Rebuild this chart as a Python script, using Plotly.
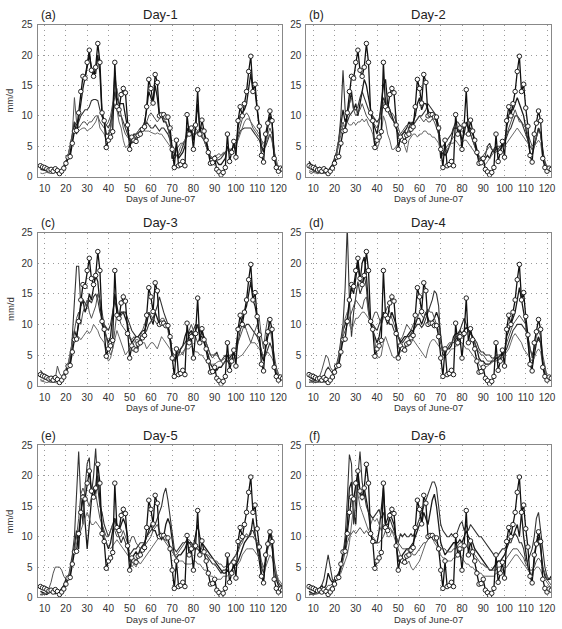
import plotly.graph_objects as go

days = list(range(8, 123))

obs = [1.8,1.6,1.5,1.3,1.1,1.2,0.9,1.3,1.0,0.5,
       0.9,1.4,2.2,3.2,3.3,5.5,7.5,7.6,10.5,14.0,
       16.5,16.2,18.8,20.8,17.5,16.5,18.0,21.9,18.8,10.5,
       9.2,4.8,6.0,6.5,7.4,18.8,11.5,11.0,13.5,14.5,
       13.8,8.5,4.5,6.5,6.0,5.8,6.8,7.0,7.8,8.2,
       11.5,16.0,14.5,12.1,16.8,15.5,10.0,10.2,10.2,9.8,
       9.8,8.0,4.5,1.5,6.0,1.8,2.0,2.5,1.8,10.2,
       7.0,8.0,4.5,8.5,14.3,7.0,9.3,7.5,6.0,4.0,
       2.2,2.3,3.0,1.2,0.8,0.3,0.7,1.5,7.0,2.5,
       4.0,5.8,3.2,9.2,11.5,10.0,12.0,14.0,17.3,19.8,
       14.0,15.2,11.3,8.3,3.5,2.4,7.0,8.8,10.8,9.2,
       3.0,1.5,0.9,1.4,1.2]

# ---- Day-1 models ----
a1 = [1.2,1.1,1,1,0.9,1,0.8,0.9,0.8,0.6,
      0.8,1.2,2,3,4,6,9,7,10,12,
      14.5,16,18,20,18,17,17,20,17,10,
      9,7,7,8,11,17,13,12,12,12,
      10,8,6,6,7,7,7,7.5,8,9,
      11,14,13,12,15,13,10,10,9,9,
      8,7,3,3.5,5,3,3.5,4,5,8,
      7,8,6,8,12,8,8,7,6,4.5,
      3,3,3,2.5,2,2,2.5,3,5,4,
      4.5,5,4.5,8,10,10.5,11,12,15,17,
      14,14,11,8,5,4,6,8,10,9,
      4,2,1,1.2,1.2]
a2 = [1.5,1.3,1.2,1.1,1,1,0.9,1,0.9,0.8,
      1,1.5,2.5,3.5,5,7,9,8.5,9,10,
      10.5,11,11,11.5,12.5,12.7,12.7,12.5,11,10,
      9,8.5,8,9,11,14,12,10,10,9,
      8,7,6,5.5,6,6.5,7,7.5,8,8,
      9,8.5,8,8,8.5,8,7.5,8,8,7.5,
      7,6,3,3,3.5,3.5,4,5,6,7,
      7,7.5,7,7,7.5,7,6.5,6,5,4,
      3,3,2.8,2.7,2.8,3,3.5,4,4.5,4.5,
      4.5,5,5,6.5,7.5,7.8,8,8,8,8,
      7.5,7,6.5,6,5,4.5,5,6,7,6,
      3.5,2,1.2,1.3,1.3]
a3 = [1.8,1.5,1.4,1.2,1.3,1.1,1.2,1.4,1.1,0.9,
      1.2,1.8,2.5,3.5,5,7,13,9,8,8.5,
      9,9,8.5,9,9,9.5,10,10,9,8.5,
      8,8.5,9,10,12,13,14.5,12,10,8,
      7,6.5,6,6,6.5,7,7.5,8,8,8.5,
      9,10,10.5,10,9.5,9,9.5,10,9.5,9,
      8,6,4,4,4.5,5,5.5,5.5,6,6.5,
      7,8,8.5,8,7.5,7,6.5,6,5,4,
      3.5,3,3.5,3.5,3.8,3.5,3.8,4,4.5,4,
      4.5,5,5.5,7,8.5,9.5,10,10.5,10,9,
      8,7.5,7,6.5,6,5.5,6,7,8,7,
      4,2,1,1,1]
a4 = [0.6,0.5,0.6,0.7,0.6,0.5,0.6,0.7,0.5,0.4,
      0.8,1.5,2.5,3.5,5,6.5,7.5,7.8,7.5,7.8,
      8,8,7.5,7.8,8,8.5,9,10,8,7.5,
      7,6,6.5,8,10,12,11,9,8,6,
      4.8,5,5.5,6,6.5,7,7.5,8,8,7.5,
      7.5,7.5,7.3,7.2,7,7.2,7,7,6.5,6,
      5.5,5,3.5,3,3.5,4,5,5.5,6,6.5,
      7,7.5,7,7,7.5,8,7,6,5,4,
      3.5,3,3,3,3.2,3.5,4,4,4.5,4.5,
      4.5,5,5.5,6,7,8,9,9.5,9.5,9,
      8.5,8,7.5,7,6,5,5.5,6.5,7,6,
      4,2.5,1.5,1.2,1.2]

# ---- Day-2 models ----
b1 = [2.5,2,1.8,1.5,1.2,1.5,1,1.2,0.8,1,
      1.5,2,3,4,6,9,11,9,10,12,
      14,11,12,10,12,14,16,15,13,11,
      9,8,7,9,12,15,16,12,11,10,
      9,8,7,6.5,7,7.5,8,9,8.5,9,
      10,12,13,11,12,12,11,10,10.5,10,
      9,7,3,4,3.5,4,5,6,8,8,
      8,7.5,6,7,9,8,8,7,6,4.5,
      3,2.5,3,3,3.5,3,4,4.5,5,4,
      4.5,5,5.5,8,10,11,11,12,13,12,
      11,10,8,6,4,3.5,5,7,8,7,
      4,2,1,1,1.2]
b2 = [1.5,1.2,1,0.8,0.7,0.6,0.6,0.8,0.7,0.8,
      1,1.5,2.5,3.5,6,10,17.5,11,9,10,
      10.5,11,11,11.5,13,14,13,12,11,10.5,
      10,9.5,9,9.5,11,13,12,11,10,9.5,
      9,8,7,6.5,7,7.5,7,8,9,8.5,
      9,9.5,10,10,10.5,11,12,11.5,11,10.5,
      10,8,5,5,5.5,6,6.5,7,8,9,
      9,8.5,8,8,8.5,8,7,6,5,4,
      3,3,2.8,3.5,5,5.5,4.5,4,4.5,4.5,
      5,5,5.5,6.5,7.5,8,9,10,10,9.5,
      9,8,7,6,5,4.5,5,6.5,8,7,
      4,2.5,1.5,1.2,1.2]
b3 = [0.8,0.5,0.7,2,0.5,0.6,1.2,0.5,1,0.5,
      1,1.5,2.5,4,6,8,9,8,10,12,
      13,11,10,10.5,11,12,11,10,9.5,9,
      9,8.5,8,9,10,12,13,11,10,10.5,
      10,9,8,7,7.5,8,8.5,8,8,8.5,
      9,9.5,10,9.5,9,9.5,9,9,9.5,9,
      8,7,4,4,4.5,5,5.5,6,6.5,7,
      7,7.5,7.5,7,7,7,7,6,5,4,
      3.5,3,3.5,4,4.5,5,4.5,4.5,5,5,
      5,5.5,6,7,8,9,10,11,10,9,
      9,8.5,8,7,6,5,5.5,6.5,7.5,7,
      4,2.5,1.5,1,1]
b4 = [1,0.8,0.7,0.6,0.5,0.6,0.5,0.6,0.5,0.4,
      0.8,1.2,2,3.5,5,7,8.5,8,9,8.5,
      8.5,9,8.5,9,9,9.5,9,9.5,8.5,8,
      7,5,4.5,5.5,7,10,9,7,6,4.5,
      4.5,5,5.5,6,6.5,5,4,6,6.5,7,
      7,6.5,7,7,7.5,7.5,7,7,6.5,6.5,
      6,5.5,4,3.5,4,4.5,5,5.5,5.5,6,
      5.5,5,5.5,6,6,5.5,5,4.5,4,3.5,
      3,2.5,2.5,2,2.5,3,3.5,4,4,4.5,
      4.5,5,5,5.5,6,6.5,7,7.5,8,7.5,
      7,6.5,6,5.5,5,4.5,5,5.5,6,5.5,
      3,2,1.5,1.2,1.2]

# ---- Day-3 models ----
c1 = [2,1.5,1.2,1,1.2,1,0.8,1,0.8,0.7,
      1,1.5,2.5,3,4,7,9,8,10,13,
      14,12,13,15,14,16,18,17,13,10,
      9,8,7,8,11,15,13,11,12,12,
      11,10,8,7,7.5,8,8,8.5,9,9,
      10,12,11,10,12,11,10,10,10.5,10,
      9.5,8,5,4,4.5,5,6,6.5,8,9,
      8.5,9,8,9,10,8,8,7,6,5,
      3.5,3,3,2.5,3,3,3.5,4,5,4.5,
      5,5.5,6,9,10,11,12,13,15,17,
      14,13,11,8,5,4,6,8,9,8.5,
      4,2,1,1,1.2]
c2 = [2.5,2,1.5,1,0.7,0.8,0.6,0.8,0.7,0.6,
      0.8,1.2,2.2,3,4,8,13,19.5,19.5,13,
      14,13.5,13,14,13.5,14.5,15,14,12,11,
      10,9.5,9,10,12,14,12,11,11.5,12,
      12,11,10,9,8.5,8,8,7.5,8,8.5,
      9,10,10.5,11,12,13,14.5,13,12,11,
      10,8,5.5,5,5,5.5,6,6.5,7,7.5,
      8,8.5,9,10,9.5,9,8.5,8,7,6,
      5,5,5,5.5,4.5,4,4.5,5,4,3.5,
      4,4.5,5,7,9,10,9.5,10,10,9.5,
      9,8.5,8,7,5.5,4.5,5,6,7,6,
      3.5,2.5,1.5,1.2,1.2]
c3 = [1,0.8,1,1.2,1,1.5,1.5,1.2,3.2,2,
      1.5,2,2.5,3.5,5,7,9,11,12,10,
      12,13,14,12,11,12,13,15,14,12,
      10,8,6,5,6,9,12,11,10,9.5,
      9,8.5,8,7.5,8,7,6,8,9,10,
      11,12,11.5,11,10.5,10,10.5,11,11,10,
      9,7,5,4,5,6,5.5,5,6,7,
      9,10,9,8,7,8,9,8,7,6,
      5,4.5,5,5,4.5,4,3.5,4,4.5,5,
      5,5.5,6,7,8,9,10,9,8,7,
      8,9,10,11,8,6,9,11,9.5,7,
      5,3,2,1.5,1.5]
c4 = [0.8,0.7,0.6,0.5,0.6,0.5,0.6,0.5,0.4,0.6,
      0.8,1.2,2,3.5,5,7,7.5,8,8,7.5,
      8,8.5,9,8.5,9,10,9.5,9,8,7.5,
      7,5,4,4.5,6,8,9,8,7,6,
      5,5.5,6,6.5,7,7.5,7.5,7,7,7,
      6,6.5,7,7,6.5,6,7,8,7.5,7,
      6.5,6,5,4.5,4.5,5,5,5.5,6,6,
      6,6.5,6,5.5,5.5,5,5,4.5,4,4,
      3.5,3.5,3.5,3.8,4,4,4.2,4.5,4.5,4.5,
      4.5,4.5,4.5,4.5,4.8,5,5.5,6,6.5,7,
      7,7,6.5,6,5.5,5,5,5.5,5,4.5,
      3.5,2.5,1.5,1.2,1.2]

# ---- Day-4 models ----
d1 = [1.5,1.2,1,0.8,1,0.8,0.7,0.8,0.6,0.5,
      1,1.5,2.5,3,4,6,9,10,11,14,
      16,15,18,20,17,20,21,18,13,10,
      9,8,7,8,10,12,11,10,11,12,
      11,10,8,7,7.5,8,8,8.5,9,9,
      10,11,11,10,11,12,11,10,10.5,11,
      12,11,8,5,5,6,6,6.5,8,8.5,
      8.5,9,8.5,9,9.5,9,8.5,8,7,6,
      4.5,4,4,3.5,3.5,3.5,4,4,4.5,4.5,
      5,5,5.5,8,9,10,11,12,14,16,
      14,12,10,7,4,3,5,7,8,7,
      4,2,1,1,1]
d2 = [1,0.8,0.7,0.5,0.6,0.8,1,1.5,2.5,3,
      2.5,2,2.5,3.5,5,8,10,16,26,14,
      8,12,15,17,15,16,18,16,12,10,
      10,9.5,9,10,11,11.5,12,11,10,10,
      9,8.5,8,7.5,7,7.5,8,8,8.5,9,
      9.5,10,10,9.5,10,11,12,13,14,15.5,
      15,13,7,5.5,6,6,6.5,7,7,7.5,
      8,9,10,11,10,9,8.5,8,7.5,7,
      6,5.5,5.5,5,5,5,4.5,4.5,4.5,4.5,
      5,5,5.5,6,7,8,9,9.5,10,10,
      10,9.5,9,8,6,5,6,7,7.5,7,
      4,2.5,1.5,1.2,1.2]
d3 = [0.5,0.6,0.8,1,1.2,1.5,2.5,4,5,4.5,
      3,2.5,2.5,3,4,6,8,9,10,11,
      12,13,14,13.5,13,12.5,14,14.5,12,10,
      11,12,12,11,10,11,12,13,12,11,
      10,9,8,7.5,8,9,10,9.5,9,10,
      10.5,11,12,11.5,11,12,12.5,12,12,11,
      10,9,7,6,6,6.5,7,7,7.5,8,
      8,8.5,8,8,8.5,9,8.5,8,7,6,
      5.5,5,5,4.5,4,4,4,4.5,5,5,
      5,5.5,6,7,8,9,10,10.5,11,11.5,
      11,10.5,10,8,6,4.5,6,8,9,8,
      5,3,1.5,1.2,1.2]
d4 = [0.6,0.5,0.5,0.6,0.5,0.5,0.6,0.5,0.5,0.6,
      0.8,1.2,2,3,4.5,7,9,11,12,10,
      9,10,11,11,11.5,12,12,11.5,11,10.5,
      9.5,7,5,4.5,5,7,8,7,6,5,
      4.5,4.8,5,5.5,6,6.5,6.5,6.5,7,7.5,
      7,6.5,6,5.5,5,4.5,6,7,7.5,7.5,
      7,6.5,6,5.5,5,5,5.5,6,6,6.5,
      6.5,7,7,6.5,6,6,5.5,5,4.5,4,
      3.5,3,3,3,3.2,3.5,3.8,4,4,4.2,
      4.5,4.5,5,5.5,6,7,8,8.5,8,7.5,
      7,6,5.5,5,4.5,4,4.5,5.5,6,5.5,
      3.5,2.5,1.5,1.2,1]

# ---- Day-5 models ----
e1 = [1,0.8,0.6,0.5,0.8,1,0.8,0.6,0.8,1,
      1.5,2,3,3.5,4,6,9,11,8,14,
      17,13,8,12,16,18,17,20,16,12,
      10,9,8,9,11,13,12,11,12,13,
      12,10,6,6,7,7.5,7,8,8.5,9,
      10,11,12,11,11,10,10,9.5,10,12,
      13,12,9,7,6.5,7,7,7.5,8,9,
      9,9,8.5,10,12,10,9,8.5,8,7.5,
      7,6.5,6,5.5,5,4.5,4,4,4.5,4,
      4.5,5,5.5,6,7,8,9,9.5,10,10.5,
      13,10,8,6,3.5,3,6,9,11,9,
      5,3,2,1.5,1.2]
e2 = [0.5,0.6,0.5,0.8,1,0.8,1,1.2,1,0.5,
      0.8,1.5,2.5,3,5,7,10,17,24,16,
      12,18,22,23,17,20,24.5,18,15,14,
      12,11,10,11,12,13,11,10,9,10,
      9,8,7,7.5,8,8,8.5,9,9,9,
      10,10.5,11,11.5,12,13,14,15,17,18,
      16,13,10,8,7.5,8,8.5,9,9,9.5,
      9,8.5,8,8,8,7.5,7.5,7.5,7,6.5,
      6,5.5,5.5,5,4.5,4,4.5,4.5,5,5.5,
      6,6.5,7,8,9,9.5,10,10,10,11,
      11,10,9,7,5,4,6,9,11,10,
      6,4,2.5,2,2]
e3 = [0.5,0.4,0.6,0.8,1.5,2.5,4,5,5,5,
      4.5,3.5,3,3.5,4,6,8,10,13,17,
      18,17,16,15,16.5,18,17,15,13,12,
      11,10,10,11,12,11,10,10,10,11,
      10,9,9,10,10,9,8.5,8,8,8.5,
      9,9.5,10,11,11.5,12,11,10,9.5,9,
      8.5,8,7.5,7,7,7.5,8,8.5,9,9.5,
      9.5,9,8,8,8.5,8,8,7.5,7,7,
      6.5,6.5,6,6,5.5,5.5,5,5,5.5,5.5,
      6,6.5,7,7.5,8.5,9,10,10.5,10,10,
      10,9.5,9,8,6,5,6,8,9,8,
      5,3.5,2.5,2,1.5]
e4 = [0.4,0.5,0.5,0.6,0.8,1,1.2,1,0.8,0.6,
      0.8,1.2,2,3,4.5,6,8,9,10,11,
      12,13,14,13,12,12,12.5,12,11.5,11,
      10,9,8.5,8,8.5,9,9.5,9,8.5,8,
      7.5,7,6.5,5,5.5,5,6,5.5,6,6.5,
      7,7.5,8,8.5,9,9.5,10,10.5,10,9.5,
      9,8.5,8,7,6.5,6,6,6,5.5,5.5,
      5.5,5.5,6,6,5.5,5.5,5,4.5,4.5,4,
      3.5,3.5,3,3,3,3,3.5,3.5,3.5,4,
      4,4.5,5,5.5,6,7,7.5,8,8,8,
      8,7.5,7,6.5,5.5,4.5,5,6,7,6.5,
      5,4,3,2.5,2]

# ---- Day-6 models ----
f1 = [1,0.8,0.6,0.8,1,1.5,2,1.5,2,4,
      3,2.5,3,3.5,4,5,7,9,12,18,
      19,14,12,20,17,16,18,16,14,11,
      9,9,9,11,14,18,12,13,14,13,
      12,9,6,6,7,7.5,8,8,8.5,9,
      10,11,12,12,14,13,12,14,16,17,
      15,12,9,8,7,7.5,8,8.5,9,9,
      9,9.5,9,10,11,10,9.5,9,8,7.5,
      7,6.5,6,5.5,5,4.5,4.5,5,5.5,6,
      6,6.5,7,8,9,10,10,11,12,10,
      14,10,7,5,4,3,6,9,10,8,
      5,3.5,3,3,3.5]
f2 = [0.5,0.6,0.5,0.8,1,1.5,2,3,5,7,
      5,3,2.5,3,4,5,7,10,16,23.5,
      22,12,16,20,24,19,17,15,14,13.5,
      13,13.5,14,14.5,13,14,12,12,13,12,
      11,10,9,10.5,10,10.5,10,10,10.5,10,
      11,12,13,14,15,16,17,18,19,19,
      18,15,12,11,10.5,10,10,10.5,10,10,
      11,12,12.5,11,12,11,12,11.5,11,10.5,
      10,10,9.5,9,8.5,8,7.5,7,7,7,
      7.5,8,8,8.5,9,9,10,10.5,10,9,
      9,8,6,6,7,8,10,13,14,11,
      7,5,3.5,3,3]
f3 = [0.4,0.5,0.4,0.6,0.8,1,1.2,1,1.5,2,
      2,2.2,2.5,3,3.5,4.5,6,8,9,10,
      10.5,11,10.5,11,11.5,11,10.5,11,10.5,10,
      10,9.5,9,9,9.5,10,11,11,11.5,11,
      10.5,10,9,8.5,8,8,8,7.5,7.5,7,
      7,7.5,8,8.5,9,9,9.5,10,10,9.5,
      9,8.5,8,8,8,7.5,7.5,7.5,8,8,
      8.5,9,9,8.5,8.5,8,8,7.5,7,6.5,
      6,5.5,5.5,5,5,4.5,4.5,4.5,4.5,5,
      5,5.5,6,6.5,7,7.5,8,8,8,7.5,
      7,6.5,5.5,5,4.5,4.5,5,6,6.5,6,
      5,4,3,2.5,2]
f4 = [0.8,0.6,0.5,0.5,0.6,0.6,0.8,0.8,1,1.2,
      1.5,2,2.5,3,3.5,4,5,6,7,9,
      12,16,18,17,15,14,13,12,11,12,
      13,12.5,13,12,11,12,11,10,10,11,
      10,9,8,7,6.5,6,5.5,6,5,4.5,
      5,5.5,6,7,8,9,9.5,10,10,9,
      8.5,8,7,6.5,6.5,6,6,6,6.5,6.5,
      7,7,6.5,6,5.5,5.5,5,5,4.5,4.5,
      4,4,3.5,3.5,3.5,3.5,3.5,3.5,4,4,
      4,4.5,5,5,5.5,6,6.5,7,7,6.5,
      6,5.5,5,4.5,4,4,4.5,5,5,4.5,
      3.5,3,2.5,2,1.5]

panel_titles = ["Day-1", "Day-2", "Day-3", "Day-4", "Day-5", "Day-6"]
panel_letters = ["(a)", "(b)", "(c)", "(d)", "(e)", "(f)"]
models = [[a1, a2, a3, a4], [b1, b2, b3, b4], [c1, c2, c3, c4],
          [d1, d2, d3, d4], [e1, e2, e3, e4], [f1, f2, f3, f4]]
x_ticks = [10, 20, 30, 40, 50, 60, 70, 80, 90, 100, 110, 120]
y_ticks = [0, 5, 10, 15, 20, 25]

W, H = 562, 629
col_px = [(38, 285), (309, 556)]
row_px = [(19, 174), (231, 387), (448, 603)]
model_colors = ["#1a1a1a", "#333333", "#505050", "#686868"]
model_widths = [1.3, 1.1, 1.0, 1.0]
FONT = "Liberation Sans, Arial, sans-serif"

fig = go.Figure()
layout = dict(width=W, height=H, margin=dict(l=0, r=0, t=0, b=0),
              plot_bgcolor="white", paper_bgcolor="white", showlegend=False,
              font=dict(family=FONT, color="#333", size=10))
annotations = []
for i in range(6):
    r, c = divmod(i, 2)
    x0, x1 = col_px[c]
    y0, y1 = row_px[r]
    xd = [x0 / W, x1 / W]
    yd = [1 - y1 / H, 1 - y0 / H]
    sfx = "" if i == 0 else str(i + 1)
    xa, ya = "x" + sfx, "y" + sfx
    for k, m in enumerate(models[i]):
        fig.add_trace(go.Scatter(x=days, y=m, mode="lines", xaxis=xa, yaxis=ya,
                                 line=dict(color=model_colors[k], width=model_widths[k])))
    fig.add_trace(go.Scatter(x=days, y=obs, mode="lines+markers", xaxis=xa, yaxis=ya,
                             line=dict(color="#111", width=1.3),
                             marker=dict(symbol="circle", size=4.5, color="white",
                                         line=dict(color="#222", width=1))))
    axcommon = dict(showline=True, mirror=True, linecolor="#888", linewidth=1,
                    showgrid=True, gridcolor="#9a9a9a", griddash="1px,4px", gridwidth=1,
                    zeroline=False, ticks="", ticklabelstandoff=2,
                    tickfont=dict(size=10, color="#333", family=FONT))
    layout["xaxis" + sfx] = dict(axcommon, domain=xd, range=[6.7, 121.9],
                                 tickvals=x_ticks, anchor=ya)
    layout["yaxis" + sfx] = dict(axcommon, domain=yd, range=[0, 25],
                                 tickvals=y_ticks, anchor=xa)
    annotations.append(dict(text=panel_titles[i], x=(x0 + x1) / 2 / W, y=1 - (y0 - 10) / H,
                            xref="paper", yref="paper", showarrow=False,
                            xanchor="center", yanchor="middle",
                            font=dict(size=13, color="#222", family=FONT)))
    annotations.append(dict(text=panel_letters[i], x=(x0 + 1) / W, y=1 - (y0 - 10) / H,
                            xref="paper", yref="paper", showarrow=False,
                            xanchor="left", yanchor="middle",
                            font=dict(size=12, color="#222", family=FONT)))
    annotations.append(dict(text="Days of June-07", x=(x0 + x1) / 2 / W, y=1 - (y1 + 22) / H,
                            xref="paper", yref="paper", showarrow=False,
                            xanchor="center", yanchor="middle",
                            font=dict(size=9.5, color="#333", family=FONT)))
    if c == 0:
        annotations.append(dict(text="mm/d", x=10 / W, y=1 - (y0 + y1) / 2 / H,
                                xref="paper", yref="paper", showarrow=False, textangle=-90,
                                xanchor="center", yanchor="middle",
                                font=dict(size=9.5, color="#333", family=FONT)))
layout["annotations"] = annotations
fig.update_layout(**layout)
fig.write_html("out.html")
